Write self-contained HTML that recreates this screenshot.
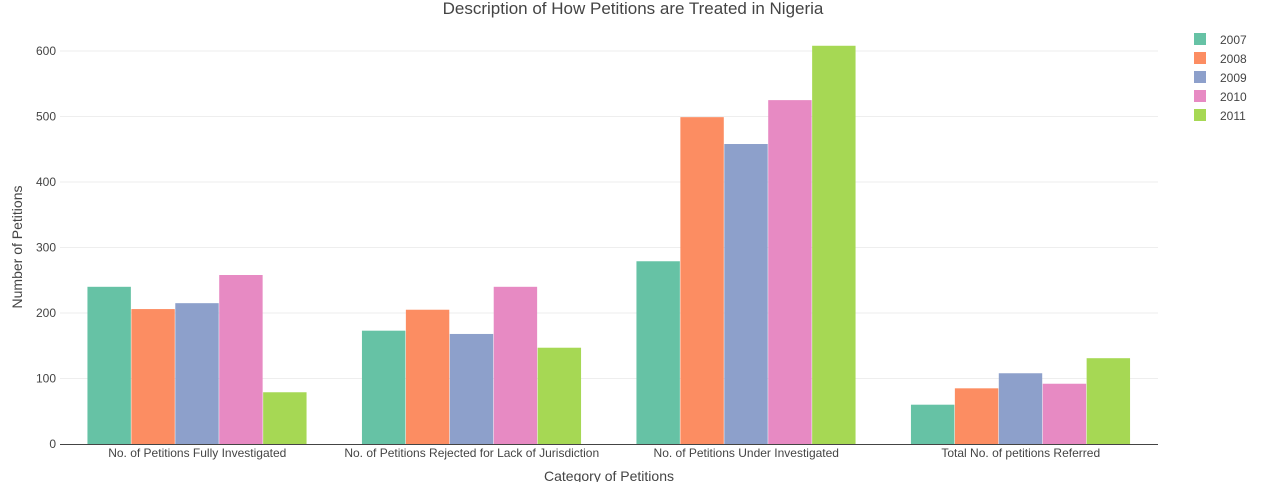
<!DOCTYPE html>
<html><head><meta charset="utf-8"><style>
body{margin:0;background:#fff;font-family:"Liberation Sans",Arial,sans-serif;}
svg text{font-family:"Liberation Sans",Arial,sans-serif;fill:#444;}
</style></head><body>
<svg id="chart" width="1264" height="482" xmlns="http://www.w3.org/2000/svg">
<text x="633" y="14" text-anchor="middle" font-size="17">Description of How Petitions are Treated in Nigeria</text>
<g id="grid"></g><g id="bars"></g><g id="axes"></g><g id="legend"></g>
<text x="609" y="481" text-anchor="middle" font-size="14">Category of Petitions</text>
<text transform="translate(22,247) rotate(-90)" text-anchor="middle" font-size="14">Number of Petitions</text>
</svg>
<script>
const categories=["No. of Petitions Fully Investigated","No. of Petitions Rejected for Lack of Jurisdiction","No. of Petitions Under Investigated","Total No. of petitions Referred"];
const seriesNames=["2007","2008","2009","2010","2011"];
const s2007=[240,173,279,60];
const s2008=[206,205,499,85];
const s2009=[215,168,458,108];
const s2010=[258,240,525,92];
const s2011=[79,147,608,131];
const yTicks=[0,100,200,300,400,500,600];
const series=[s2007,s2008,s2009,s2010,s2011];
const colors=["#66c2a5","#fc8d62","#8da0cb","#e78ac3","#a6d854"];
const NS="http://www.w3.org/2000/svg";
const x0=60,x1=1158,y0=444,y600=51;
const y=v=>y0-(v/600)*(y0-y600);
const band=(x1-x0)/categories.length, bw=band*0.8/series.length;
function mk(tag,attrs,parent){const e=document.createElementNS(NS,tag);for(const k in attrs)e.setAttribute(k,attrs[k]);document.getElementById(parent).appendChild(e);return e;}
yTicks.forEach(t=>{
 if(t>0){const l=mk('line',{x1:x0,x2:x1,y1:y(t),y2:y(t),stroke:'#eee'},'grid');
 
 }
 const tx=mk('text',{x:x0-4,y:y(t)+4,'text-anchor':'end','font-size':12},'axes');tx.textContent=t;
 
 
});
categories.forEach((c,i)=>{
 const cx=x0+band*(i+0.5);
 series.forEach((s,j)=>{
  const r=mk('rect',{x:cx-band*0.4+j*bw,y:y(s[i]),width:bw-0.5,height:y0-y(s[i]),fill:colors[j]},'bars');
  
  
 });
 const tx=mk('text',{x:cx,y:y0+13,'text-anchor':'middle','font-size':12},'axes');tx.textContent=c;
 
 
});
const ax=mk('line',{x1:x0,x2:x1,y1:y0+0.5,y2:y0+0.5,stroke:'#444'},'axes');


seriesNames.forEach((n,j)=>{
 const r=mk('rect',{x:1194,y:33+j*19,width:12,height:12,fill:colors[j]},'legend');
 
 
 const t=mk('text',{x:1220,y:44+j*19,'font-size':12},'legend');t.textContent=n;
 
 
});
</script>
</body></html>
